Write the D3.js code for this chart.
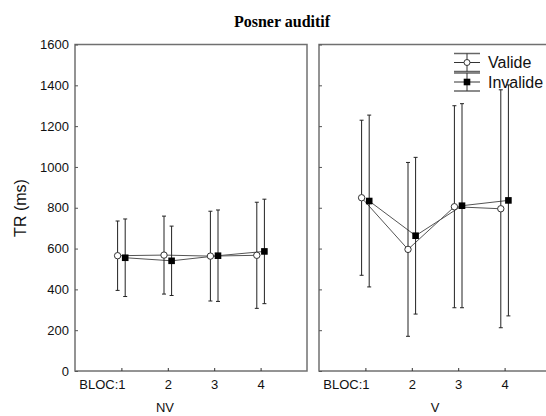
<!DOCTYPE html>
<html>
<head>
<meta charset="utf-8">
<script src="https://cdn.jsdelivr.net/npm/d3@7"></script>
<style>
  html, body { margin: 0; padding: 0; background: #fff; }
  svg { display: block; }
</style>
</head>
<body>
<svg id="chart" width="546" height="416"></svg>
<script>
// ---- data ----
const blocs = [1, 2, 3, 4];
const blocLabels = ["BLOC:1", "2", "3", "4"];
const yTicks = [0, 200, 400, 600, 800, 1000, 1200, 1400, 1600];
const panels = ["NV", "V"];
const series = ["Valide", "Invalide"];

// NV panel
const nvValideMean = [565, 568, 563, 567];
const nvValideErr  = [170, 191, 220, 260];
const nvInvalideMean = [555, 540, 565, 586];
const nvInvalideErr  = [190, 170, 224, 256];
// V panel
const vValideMean = [849, 596, 805, 795];
const vValideErr  = [380, 426, 495, 583];
const vInvalideMean = [833, 663, 810, 836];
const vInvalideErr  = [421, 384, 500, 566];

const panelData = [
  { name: panels[0], valide: { mean: nvValideMean, err: nvValideErr }, invalide: { mean: nvInvalideMean, err: nvInvalideErr } },
  { name: panels[1], valide: { mean: vValideMean,  err: vValideErr },  invalide: { mean: vInvalideMean,  err: vInvalideErr } }
];

// ---- layout ----
const svg = d3.select("#chart");
const panelW = 232;
const panelX = [75, 319];
const yTop = 44.5, yBot = 371;
const y = d3.scaleLinear().domain([0, 1600]).range([yBot, yTop]);
const x = d3.scaleLinear().domain([0, 5]).range([0, panelW]);
const offset = 3.8;
const capW = 2;
const frameColor = "#707070";

svg.append("text")
  .attr("x", 282).attr("y", 27)
  .attr("text-anchor", "middle")
  .attr("font-family", "Liberation Serif, Times New Roman, serif")
  .attr("font-weight", "bold")
  .attr("font-size", 16)
  .text("Posner auditif");

svg.append("text")
  .attr("transform", "translate(26,208) rotate(-90)")
  .attr("text-anchor", "middle")
  .attr("font-family", "Liberation Sans, Arial, sans-serif")
  .attr("font-size", 16)
  .attr("fill", "#111")
  .text("TR (ms)");

panelData.forEach((p, pi) => {
  const g = svg.append("g").attr("transform", `translate(${panelX[pi]},0)`);

  // frame
  g.append("rect")
    .attr("x", 0).attr("y", yTop)
    .attr("width", panelW).attr("height", yBot - yTop)
    .attr("fill", "none")
    .attr("stroke", frameColor)
    .attr("stroke-width", 1.5);

  // x axis
  const xa = g.append("g").attr("transform", `translate(0,${yBot})`)
    .call(d3.axisBottom(x).tickValues(blocs).tickSize(-3).tickPadding(9)
      .tickFormat((d, i) => blocLabels[i]));
  xa.select(".domain").remove();
  xa.selectAll("line").attr("stroke", "#333");
  xa.selectAll("text")
    .attr("font-family", "Liberation Sans, Arial, sans-serif")
    .attr("font-size", 13)
    .attr("fill", "#111");
  xa.selectAll("text").filter((d, i) => i === 0)
    .attr("text-anchor", "end").attr("x", 3.7);

  // y axis
  const ya = g.append("g")
    .call(d3.axisLeft(y).tickValues(yTicks).tickSize(-3).tickPadding(6).tickFormat(d3.format("d")));
  ya.select(".domain").remove();
  ya.selectAll("line").attr("stroke", "#555");
  if (pi === 0) {
    ya.selectAll("text")
      .attr("font-family", "Liberation Sans, Arial, sans-serif")
      .attr("font-size", 13)
      .attr("fill", "#111");
  } else {
    ya.selectAll("text").remove();
  }

  // panel label
  g.append("text")
    .attr("x", pi === 0 ? 90 : panelW / 2)
    .attr("y", 412)
    .attr("text-anchor", "middle")
    .attr("font-family", "Liberation Sans, Arial, sans-serif")
    .attr("font-size", 13)
    .attr("fill", "#111")
    .text(p.name);

  const sets = [
    { key: "valide", dx: -offset, d: p.valide },
    { key: "invalide", dx: offset, d: p.invalide }
  ];

  // lines
  sets.forEach(s => {
    const line = d3.line().x((d, i) => x(blocs[i]) + s.dx).y(d => y(d));
    g.append("path").datum(s.d.mean)
      .attr("d", line)
      .attr("fill", "none")
      .attr("stroke", "#555")
      .attr("stroke-width", 1);
  });

  // error bars
  sets.forEach(s => {
    blocs.forEach((b, i) => {
      const cx = x(b) + s.dx;
      const lo = y(s.d.mean[i] - s.d.err[i]);
      const hi = y(s.d.mean[i] + s.d.err[i]);
      g.append("line").attr("x1", cx).attr("x2", cx).attr("y1", lo).attr("y2", hi)
        .attr("stroke", "#222").attr("stroke-width", 1);
      [lo, hi].forEach(yy => {
        g.append("line").attr("x1", cx - capW).attr("x2", cx + capW).attr("y1", yy).attr("y2", yy)
          .attr("stroke", "#222").attr("stroke-width", 1);
      });
    });
  });

  // markers
  sets.forEach(s => {
    blocs.forEach((b, i) => {
      const cx = x(b) + s.dx;
      const cy = y(s.d.mean[i]);
      if (s.key === "valide") {
        g.append("circle").attr("cx", cx).attr("cy", cy).attr("r", 3.2)
          .attr("fill", "#fff").attr("stroke", "#333").attr("stroke-width", 1);
      } else {
        g.append("rect").attr("x", cx - 3.3).attr("y", cy - 3.3)
          .attr("width", 6.6).attr("height", 6.6).attr("fill", "#000");
      }
    });
  });
});

// legend
const leg = svg.append("g");
const legCenters = [62.5, 82];
series.forEach((name, i) => {
  const cy = legCenters[i];
  const cx = 467;
  const lg = leg.append("g");
  [cy - 9, cy, cy + 9].forEach((yy, k) => {
    lg.append("line").attr("x1", 454).attr("x2", 480).attr("y1", yy).attr("y2", yy)
      .attr("stroke", k === 1 ? "#333" : "#666").attr("stroke-width", k === 1 ? 1 : 1.5);
  });
  lg.append("line").attr("x1", cx).attr("x2", cx).attr("y1", cy - 9).attr("y2", cy + 9)
    .attr("stroke", "#333").attr("stroke-width", 1);
  if (i === 0) {
    lg.append("circle").attr("cx", cx).attr("cy", cy).attr("r", 3)
      .attr("fill", "#fff").attr("stroke", "#333");
  } else {
    lg.append("rect").attr("x", cx - 3.3).attr("y", cy - 3.3).attr("width", 6.6).attr("height", 6.6)
      .attr("fill", "#000");
  }
  lg.append("text").attr("x", 488).attr("y", cy + 5.5)
    .attr("font-family", "Liberation Sans, Arial, sans-serif")
    .attr("font-size", 16)
    .attr("fill", "#111")
    .text(name);
});
</script>
</body>
</html>
